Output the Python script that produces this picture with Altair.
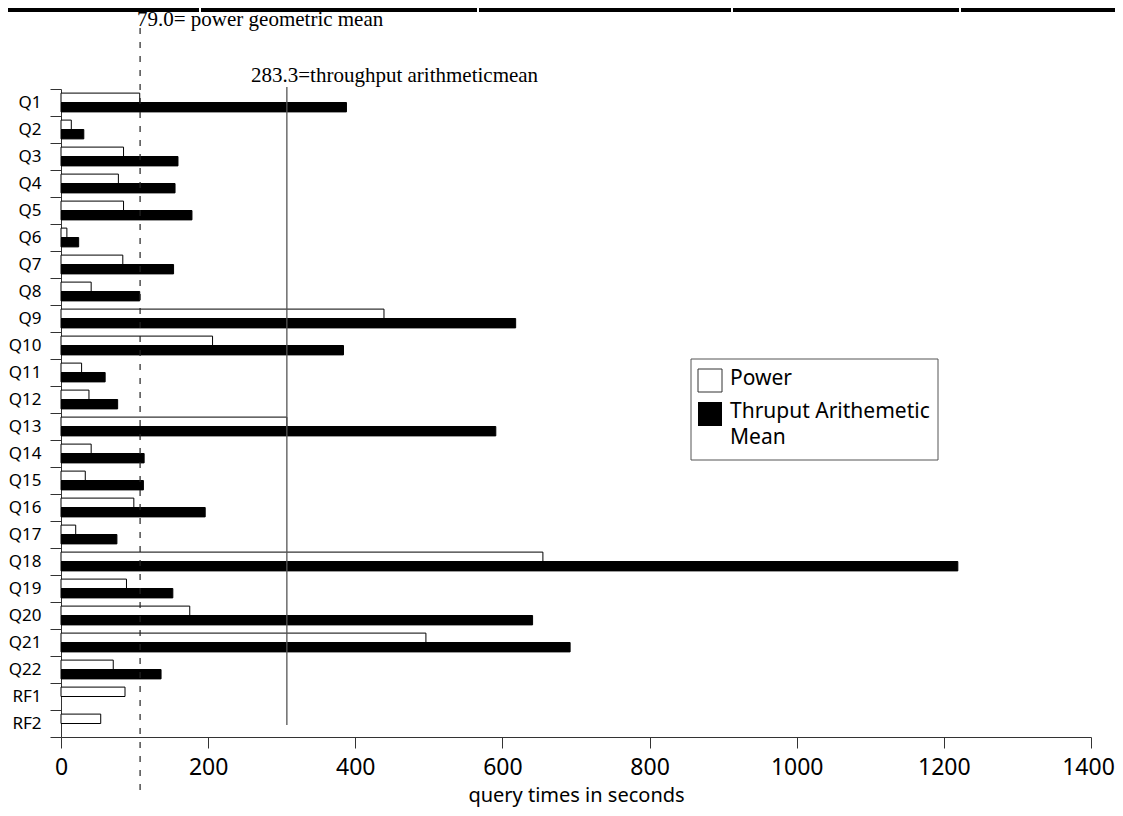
import altair as alt
import pandas as pd

queries = ["Q1", "Q2", "Q3", "Q4", "Q5", "Q6", "Q7", "Q8", "Q9", "Q10", "Q11", "Q12",
           "Q13", "Q14", "Q15", "Q16", "Q17", "Q18", "Q19", "Q20", "Q21", "Q22", "RF1", "RF2"]
power = [107, 14, 85, 78, 85, 8, 84, 41, 439, 206, 28, 38,
         307, 41, 33, 99, 20, 655, 89, 175, 496, 71, 87, 54]
thruput = [388, 31, 159, 155, 178, 24, 153, 107, 618, 384, 60, 77,
           591, 113, 112, 196, 76, 1219, 152, 641, 692, 136, None, None]
series_names = ["Power", "Thruput Arithemetic Mean"]

ref_values = [107.5, 307]
ref_labels = ["79.0= power geometric mean", "283.3=throughput arithmeticmean"]
x_ticks = [0, 200, 400, 600, 800, 1000, 1200, 1400]

rows = []
for q, p, t in zip(queries, power, thruput):
    rows.append({"query": q, "series": series_names[0], "seconds": p})
    if t is not None:
        rows.append({"query": q, "series": series_names[1], "seconds": t})
df = pd.DataFrame(rows)

W, H = 1030, 648
SANS = "Noto Sans"
SERIF = "Liberation Serif"

bars = alt.Chart(df).mark_bar(stroke="black", strokeWidth=1).encode(
    y=alt.Y("query:N", sort=queries,
            scale=alt.Scale(paddingInner=0, paddingOuter=0),
            axis=alt.Axis(title=None, tickBand="extent", tickSize=11, labelPadding=9,
                          labelFontSize=17, labelFont=SANS, labelColor="black",
                          domainColor="#333", tickColor="#333", grid=False)),
    x=alt.X("seconds:Q",
            scale=alt.Scale(domain=[0, 1400], nice=False),
            axis=alt.Axis(title="query times in seconds", values=x_ticks, format="d",
                          tickSize=11, labelPadding=8, labelFontSize=23, labelFont=SANS,
                          labelColor="black", labelFlush=False,
                          labelOffset=alt.condition("datum.value == 1400", alt.value(-3), alt.value(0)),
                          titleFont=SANS, titleFontSize=20, titleFontWeight="normal",
                          titleColor="black", titlePadding=6,
                          domainColor="#333", tickColor="#333", grid=False)),
    yOffset=alt.YOffset("series:N", sort=series_names,
                        scale=alt.Scale(paddingInner=0, paddingOuter=0.436)),
    fill=alt.Fill("series:N", scale=alt.Scale(domain=series_names, range=["white", "black"]),
                  legend=None),
)

ref_df = pd.DataFrame({"value": ref_values, "label": ref_labels})

dashed = alt.Chart(ref_df.iloc[[0]]).mark_rule(
    color="#222", strokeWidth=1.2, strokeDash=[6, 8]
).encode(x="value:Q", y=alt.value(-61), y2=alt.value(709))

solid = alt.Chart(ref_df.iloc[[1]]).mark_rule(
    color="#555", strokeWidth=1.3
).encode(x="value:Q", y=alt.value(-2), y2=alt.value(636))

lab1 = alt.Chart(ref_df.iloc[[0]]).mark_text(
    font=SERIF, fontSize=21, align="left", baseline="alphabetic", color="black"
).encode(x=alt.value(76), y=alt.value(-63), text="label:N")

lab2 = alt.Chart(ref_df.iloc[[1]]).mark_text(
    font=SERIF, fontSize=21, align="left", baseline="alphabetic", color="black"
).encode(x=alt.value(190), y=alt.value(-7), text="label:N")

# legend (drawn manually)
leg_box = alt.Chart(pd.DataFrame({"a": [0]})).mark_rect(
    fill="white", stroke="#555", strokeWidth=1
).encode(x=alt.value(630), x2=alt.value(877), y=alt.value(270), y2=alt.value(371))

leg_sym1 = alt.Chart(pd.DataFrame({"series": [series_names[0]]})).mark_rect(
    fill="white", stroke="#333", strokeWidth=1
).encode(x=alt.value(637), x2=alt.value(661), y=alt.value(280), y2=alt.value(303))
leg_sym2 = alt.Chart(pd.DataFrame({"series": [series_names[1]]})).mark_rect(
    fill="black"
).encode(x=alt.value(637), x2=alt.value(661), y=alt.value(313), y2=alt.value(337))

leg_t1 = alt.Chart(pd.DataFrame({"t": ["Power"]})).mark_text(
    font=SANS, fontSize=21, align="left", baseline="middle", color="black"
).encode(x=alt.value(669), y=alt.value(290), text="t:N")
leg_t2 = alt.Chart(pd.DataFrame({"t": ["Thruput Arithemetic"]})).mark_text(
    font=SANS, fontSize=21, align="left", baseline="middle", color="black"
).encode(x=alt.value(669), y=alt.value(323), text="t:N")
leg_t3 = alt.Chart(pd.DataFrame({"t": ["Mean"]})).mark_text(
    font=SANS, fontSize=21, align="left", baseline="middle", color="black"
).encode(x=alt.value(669), y=alt.value(349), text="t:N")

# top black strip (page decoration)
strip = alt.Chart(pd.DataFrame({"a": [0]})).mark_rect(fill="black").encode(
    x=alt.value(-53), x2=alt.value(1054), y=alt.value(-81), y2=alt.value(-77))
gap_df = pd.DataFrame({"gx": [139, 417, 671, 899]})
gaps = alt.Chart(gap_df).mark_rule(color="white", strokeWidth=2).encode(
    x=alt.X("gx:Q", scale=None), y=alt.value(-81), y2=alt.value(-77))

chart = alt.layer(
    strip, gaps, bars, dashed, solid, lab1, lab2, leg_box, leg_sym1, leg_sym2,
    leg_t1, leg_t2, leg_t3
).properties(
    width=W, height=H,
    autosize=alt.AutoSizeParams(type="none"),
    padding={"left": 53, "top": 81, "right": 24, "bottom": 71},
    background="white",
).configure_view(strokeWidth=0)

chart.save("out.html", embed_options={"renderer": "svg", "actions": False})
